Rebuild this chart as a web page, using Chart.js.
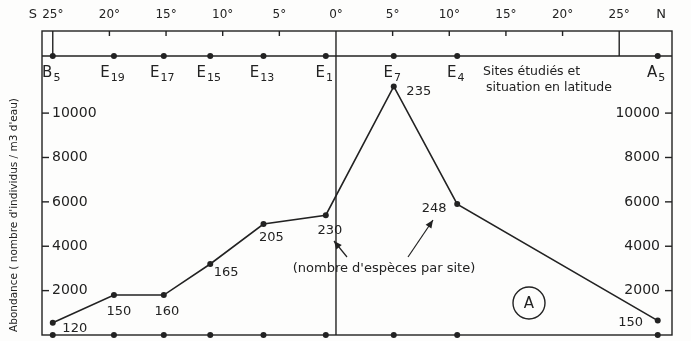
<!DOCTYPE html>
<html>
<head>
<meta charset="utf-8">
<script src="https://cdn.jsdelivr.net/npm/chart.js@4.4.1/dist/chart.umd.min.js"></script>
<style>
  html, body { margin: 0; padding: 0; background: #fdfdfc; }
</style>
</head>
<body>
<canvas id="chart" width="691" height="341"></canvas>
<script>
// sites studied, their latitude (negative = south) and values
const sites = ['B5', 'E19', 'E17', 'E15', 'E13', 'E1', 'E7', 'E4', 'A5'];
const latitudes = [-25, -19.6, -15.2, -11.1, -6.4, -0.9, 5.1, 10.7, 28.4];
const abundance = [550, 1800, 1800, 3200, 5000, 5400, 11200, 5900, 650];
const species = [120, 150, 160, 165, 205, 230, 235, 248, 150];
const latTicks = [-25, -20, -15, -10, -5, 0, 5, 10, 15, 20, 25];
const yTicks = [2000, 4000, 6000, 8000, 10000];

// where each species count sits relative to its point (px)
const labelOffsets = [[22, 6], [5, 17], [3, 17], [16, 9], [8, 14], [4, 15], [25, 5], [-23, 5], [-27, 2]];

const ink = '#222';
const FONT = '"DejaVu Sans", sans-serif';

function line(ctx, x1, y1, x2, y2) {
    ctx.beginPath();
    ctx.moveTo(x1, y1);
    ctx.lineTo(x2, y2);
    ctx.stroke();
}

function arrow(ctx, x1, y1, x2, y2) {
    line(ctx, x1, y1, x2, y2);
    const ang = Math.atan2(y2 - y1, x2 - x1);
    const len = 8, w = 3.5;
    ctx.beginPath();
    ctx.moveTo(x2, y2);
    ctx.lineTo(x2 - len * Math.cos(ang) + w * Math.sin(ang), y2 - len * Math.sin(ang) - w * Math.cos(ang));
    ctx.lineTo(x2 - len * Math.cos(ang) - w * Math.sin(ang), y2 - len * Math.sin(ang) + w * Math.cos(ang));
    ctx.closePath();
    ctx.fill();
}

const figurePlugin = {
    id: 'figure',
    beforeDatasetsDraw(chart) {
        const { ctx, chartArea: a, scales: { x, y } } = chart;
        const headY = a.top + 25;
        ctx.save();
        ctx.strokeStyle = ink;
        ctx.fillStyle = ink;
        ctx.lineWidth = 1.4;

        // frame and the site line
        ctx.strokeRect(a.left, a.top, a.right - a.left, a.bottom - a.top);
        line(ctx, a.left, headY, a.right, headY);

        // latitude ticks along the top
        latTicks.forEach(t => {
            const px = x.getPixelForValue(t);
            if (t === 0) line(ctx, px, a.top, px, a.bottom);
            else if (Math.abs(t) === 25) line(ctx, px, a.top, px, headY);
            else line(ctx, px, a.top, px, a.top + 5);
        });

        // abundance ticks, pointing inwards on both sides
        yTicks.forEach(v => {
            const py = y.getPixelForValue(v);
            line(ctx, a.left, py, a.left + 7, py);
            line(ctx, a.right - 7, py, a.right, py);
        });

        // site dots and names
        sites.forEach((s, i) => {
            const px = x.getPixelForValue(latitudes[i]);
            ctx.beginPath();
            ctx.arc(px, headY, 3, 0, Math.PI * 2);
            ctx.fill();

            const letter = s[0], sub = s.slice(1);
            ctx.font = '15px ' + FONT;
            const wL = ctx.measureText(letter).width;
            ctx.font = '11px ' + FONT;
            const wS = ctx.measureText(sub).width;
            const start = px - 2 - (wL + wS) / 2;
            ctx.textAlign = 'left';
            ctx.textBaseline = 'alphabetic';
            ctx.font = '15px ' + FONT;
            ctx.fillText(letter, start, 77);
            ctx.font = '11px ' + FONT;
            ctx.fillText(sub, start + wL + 1, 81);
        });

        // S / N markers
        ctx.font = '13px ' + FONT;
        ctx.textAlign = 'center';
        ctx.textBaseline = 'middle';
        ctx.fillText('S', 33, 15);
        ctx.fillText('N', 661, 15);

        // legend text for the site line
        ctx.font = '12.5px ' + FONT;
        ctx.textAlign = 'left';
        ctx.fillText('Sites étudiés et', 483, 72);
        ctx.fillText('situation en latitude', 486, 88);

        // y axis title
        ctx.save();
        ctx.translate(14, 215);
        ctx.rotate(-Math.PI / 2);
        ctx.font = '10.5px ' + FONT;
        ctx.textAlign = 'center';
        ctx.fillText("Abondance ( nombre d'individus / m3 d'eau)", 0, 0);
        ctx.restore();

        ctx.restore();
    },
    afterDatasetsDraw(chart) {
        const { ctx } = chart;
        const pts = chart.getDatasetMeta(0).data;
        ctx.save();
        ctx.fillStyle = ink;
        ctx.strokeStyle = ink;
        ctx.lineWidth = 1.2;

        // number of species per site
        ctx.font = '13px ' + FONT;
        ctx.textAlign = 'center';
        ctx.textBaseline = 'middle';
        species.forEach((n, i) => {
            const p = pts[i];
            ctx.fillText(String(n), p.x + labelOffsets[i][0], p.y + labelOffsets[i][1]);
        });

        // note with its two arrows
        ctx.font = '13px ' + FONT;
        ctx.fillText("(nombre d'espèces par site)", 384, 269);
        arrow(ctx, 347, 257, 334, 241);
        arrow(ctx, 408, 257, 433, 220);

        // panel letter
        ctx.lineWidth = 1.4;
        ctx.beginPath();
        ctx.arc(529, 303, 16, 0, Math.PI * 2);
        ctx.stroke();
        ctx.font = '15px ' + FONT;
        ctx.fillText('A', 529, 304);
        ctx.restore();
    }
};

const tickFont = { family: FONT, size: 14 };

new Chart(document.getElementById('chart'), {
    type: 'scatter',
    data: {
        datasets: [{
            data: latitudes.map((lat, i) => ({ x: lat, y: abundance[i] })),
            showLine: true,
            borderColor: ink,
            borderWidth: 1.6,
            pointRadius: 3,
            pointBackgroundColor: ink,
            pointBorderWidth: 0,
            clip: false
        }, {
            data: latitudes.map(lat => ({ x: lat, y: 0 })),
            showLine: false,
            pointRadius: 3,
            pointBackgroundColor: ink,
            pointBorderWidth: 0,
            clip: false
        }]
    },
    options: {
        responsive: false,
        animation: false,
        devicePixelRatio: 1,
        layout: { padding: { top: 0, left: 0, right: 0, bottom: 6 } },
        plugins: { legend: { display: false }, tooltip: { enabled: false } },
        scales: {
            x: {
                type: 'linear',
                position: 'top',
                min: -25.95,
                max: 29.66,
                afterBuildTicks: s => { s.ticks = latTicks.map(v => ({ value: v })); },
                afterFit: s => { s.height = 31; s.paddingLeft = 0; s.paddingRight = 0; },
                grid: { display: false, drawTicks: false },
                border: { display: false },
                ticks: {
                    autoSkip: false,
                    maxRotation: 0,
                    padding: 9,
                    color: ink,
                    font: { family: FONT, size: 12 },
                    callback: v => Math.abs(v) + '°'
                }
            },
            y: {
                position: 'left',
                min: 0,
                max: 13700,
                afterBuildTicks: s => { s.ticks = yTicks.map(v => ({ value: v })); },
                afterFit: s => { s.width = 42; s.paddingTop = 0; s.paddingBottom = 0; },
                grid: { display: false, drawTicks: false },
                border: { display: false },
                ticks: { mirror: true, padding: 10, color: ink, font: tickFont, callback: v => String(v) }
            },
            y2: {
                position: 'right',
                min: 0,
                max: 13700,
                afterBuildTicks: s => { s.ticks = yTicks.map(v => ({ value: v })); },
                afterFit: s => { s.width = 19; s.paddingTop = 0; s.paddingBottom = 0; },
                grid: { display: false, drawTicks: false },
                border: { display: false },
                ticks: { mirror: true, padding: -12, color: ink, font: tickFont, callback: v => String(v) }
            }
        }
    },
    plugins: [figurePlugin]
});
</script>
</body>
</html>
